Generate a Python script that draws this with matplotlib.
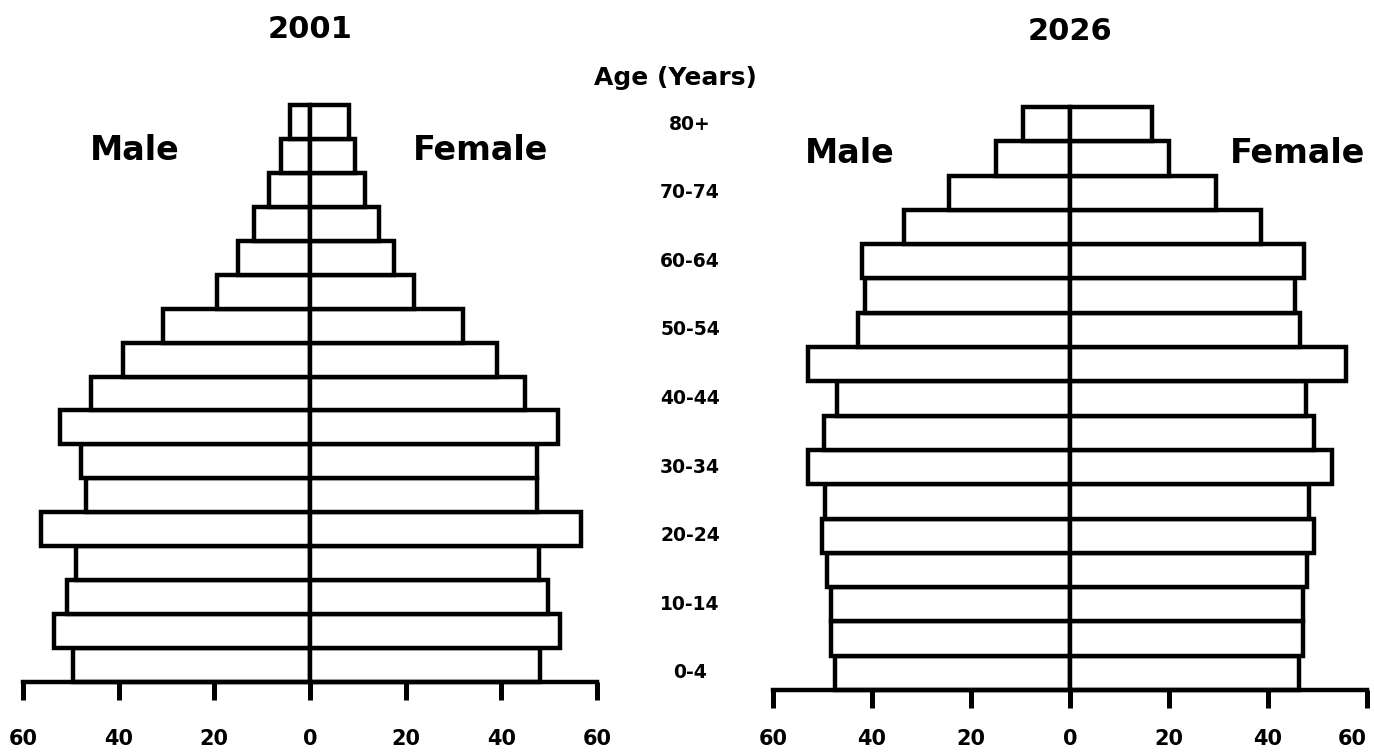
import numpy as np
import matplotlib.pyplot as plt
from matplotlib.transforms import blended_transform_factory

plt.rcParams['font.family'] = ['DejaVu Sans']
plt.rcParams['font.weight'] = 'bold'

# age groups, youngest first
ages = ['0-4', '5-9', '10-14', '15-19', '20-24', '25-29', '30-34', '35-39', '40-44',
        '45-49', '50-54', '55-59', '60-64', '65-69', '70-74', '75-79', '80+']

male_2001 = [49.6, 53.5, 50.8, 49.0, 56.3, 46.9, 47.8, 52.3, 45.8, 39.0, 30.8, 19.4, 15.0, 11.7, 8.5, 6.0, 4.2]
female_2001 = [48.1, 52.3, 49.8, 47.9, 56.7, 47.5, 47.5, 51.9, 45.0, 39.0, 31.9, 21.7, 17.5, 14.4, 11.5, 9.4, 8.1]
male_2026 = [47.4, 48.2, 48.2, 49.0, 50.2, 49.4, 53.0, 49.7, 47.0, 53.0, 42.8, 41.5, 42.0, 33.5, 24.5, 15.0, 9.5]
female_2026 = [46.2, 47.0, 47.0, 47.8, 49.3, 48.2, 53.0, 49.3, 47.7, 55.7, 46.5, 45.4, 47.3, 38.5, 29.5, 20.0, 16.5]

xticks = [-60, -40, -20, 0, 20, 40, 60]

fig = plt.figure(figsize=(13.74, 7.53), dpi=100)
ax1 = fig.add_axes([23 / 1374, (753 - 682) / 753, 574 / 1374, 577 / 753])
ax2 = fig.add_axes([773 / 1374, (753 - 690) / 753, 594 / 1374, 583 / 753])


def pyramid(ax, male, female, title, male_x, female_x, pad):
    y = np.arange(len(ages))
    ax.barh(y, -np.array(male), height=1.0, color='white', edgecolor='black',
            linewidth=3.2, clip_on=False)
    ax.barh(y, female, height=1.0, color='white', edgecolor='black',
            linewidth=3.2, clip_on=False)
    ax.set_xlim(-60, 60)
    ax.set_ylim(-0.5, len(ages) - 0.5)
    for s in ['left', 'right', 'top']:
        ax.spines[s].set_visible(False)
    ax.spines['bottom'].set_linewidth(3.2)
    ax.set_yticks([])
    ax.set_xticks(xticks)
    ax.set_xticklabels([str(abs(t)) for t in xticks])
    ax.tick_params(axis='x', direction='out', length=13, width=3.6, pad=pad, labelsize=15)
    ax.set_title(title, fontsize=22, fontweight='bold', pad=48)
    ax.text(male_x, 15.15, 'Male', fontsize=24, fontweight='bold', ha='center', va='center')
    ax.text(female_x, 15.15, 'Female', fontsize=24, fontweight='bold', ha='center', va='center')


pyramid(ax1, male_2001, female_2001, '2001', -36.6, 35.6, 21)
pyramid(ax2, male_2026, female_2026, '2026', -44.4, 45.9, 15)
# keep the last label inside the figure edge
ax2.get_xticklabels()[-1].set_horizontalalignment('right')

# age labels in the middle column, aligned with the 2026 rows
trans = blended_transform_factory(fig.transFigure, ax2.transData)
for i in range(0, len(ages), 2):
    ax2.text(690 / 1374, i, ages[i], transform=trans, fontsize=13.5, fontweight='bold',
             ha='center', va='center', clip_on=False)
fig.text(675 / 1374, 1 - 78 / 753, 'Age (Years)', fontsize=18, fontweight='bold',
         ha='center', va='center')

fig.savefig('out.png', dpi=100)
